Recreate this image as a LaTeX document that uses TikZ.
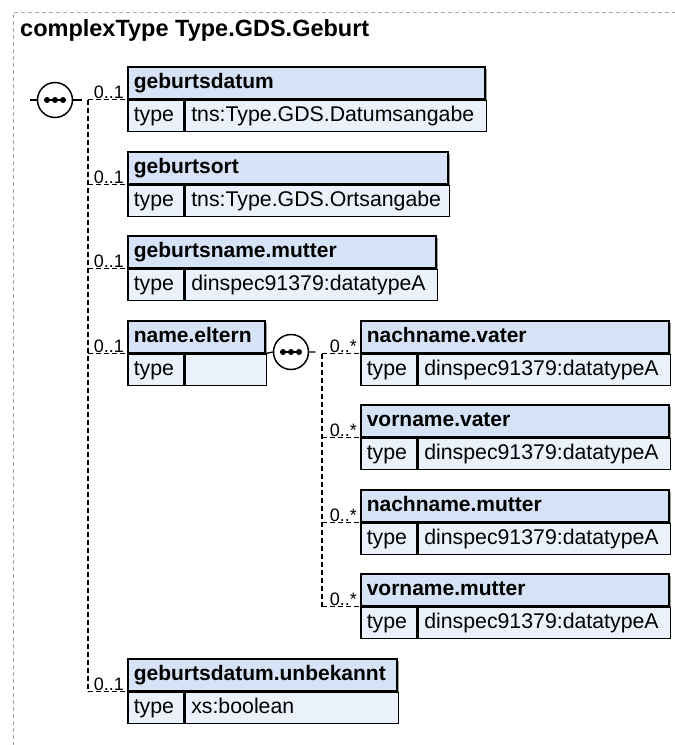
\documentclass[tikz,border=0pt]{standalone}
\usepackage{fontspec}
\setmainfont{Liberation Sans}
\usepackage{tikz}

\definecolor{headblue}{RGB}{214,227,247}
\definecolor{rowblue}{RGB}{234,241,251}
\definecolor{framegray}{RGB}{165,165,165}

\tikzset{
  elhead/.style={draw, line width=1.5pt, fill=headblue, anchor=north west, align=left,
    inner xsep=6pt, inner ysep=0pt, minimum height=32pt, text height=15pt, text depth=4pt,
    font=\bfseries\fontsize{21}{24}\selectfont},
  elrow/.style={elhead, fill=rowblue, minimum height=31pt, font=\fontsize{21.3}{24}\selectfont},
  tree/.style={line width=1.3pt, dash pattern=on 5pt off 3pt},
  mult/.style={anchor=south east, inner sep=0pt, font=\fontsize{18}{20}\selectfont},
  seqcirc/.style={circle, draw, line width=1.5pt, fill=white, minimum size=35pt, inner sep=0pt},
}

\newcommand{\xselem}[6]{%
  \pgfmathsetmacro\headw{#4-12}
  \pgfmathsetmacro\typew{#4-68}
  \fill[black!40] (#2+2.5,#3+2.5) rectangle (#2+#4+2.5,#3+65.5);
  \path (#2,#3) node[elhead, text width=\headw pt] (#1) {#5}
    (#1.south west) node[elrow, text width=44pt] (#1-k) {type}
    (#1-k.north east) node[elrow, text width=\typew pt] (#1-t) {#6};
}
\newcommand{\seqicon}[3]{%
  \node[seqcirc] (#1) at (#2,#3) {};
  \draw[line width=1.5pt] ([xshift=-8pt]#1.center) -- ([xshift=8pt]#1.center);
  \foreach \d in {-8,0,8} \fill ([xshift=\d pt]#1.center) circle (3pt);
}

\begin{document}
\begin{tikzpicture}[x=1pt, y=-1pt]
\useasboundingbox (0,0) rectangle (675,745);
\draw[framegray, line width=1pt, dash pattern=on 4pt off 3pt] (13,760) |- (690,12);
\node[anchor=base west, inner sep=0pt, font=\bfseries\fontsize{23.5}{28}\selectfont] (title) at (20,36) {complexType Type.GDS.Geburt};

\xselem{gdatum}{127}{66}{357}{geburtsdatum}{tns:Type.GDS.Datumsangabe}
\xselem{gort}{127}{151}{320}{geburtsort}{tns:Type.GDS.Ortsangabe}
\xselem{gmutter}{127}{235}{308}{geburtsname.mutter}{dinspec91379:datatypeA}
\xselem{eltern}{127}{320}{137}{name.eltern}{}
\xselem{gunbek}{127}{658}{269}{geburtsdatum.unbekannt}{xs:boolean}

\xselem{nvater}{360}{320}{308}{nachname.vater}{dinspec91379:datatypeA}
\xselem{vvater}{360}{404}{308}{vorname.vater}{dinspec91379:datatypeA}
\xselem{nmutter}{360}{489}{308}{nachname.mutter}{dinspec91379:datatypeA}
\xselem{vmutter}{360}{573}{308}{vorname.mutter}{dinspec91379:datatypeA}

\seqicon{seqa}{55}{100}
\seqicon{seqb}{291}{352}
\draw[line width=1.3pt] (seqa.west) -- ++(-7,0) (seqa.east) -- ++(9,0);
\draw[line width=1.3pt] (eltern.south east) -- (seqb.west) (seqb.east) -- ++(6,0);

\coordinate (trunk) at (88,0);
\draw[tree] (gdatum.south west -| trunk) -- (gunbek.south west -| trunk);
\foreach \e in {gdatum,gort,gmutter,eltern,gunbek} {
  \draw[tree] (\e.south west -| trunk) -- (\e.south west);
  \node[mult] (\e-m) at ([xshift=-3pt,yshift=0.5pt]\e.south west) {0..1};
}

\coordinate (branch) at (322,0);
\draw[tree] (nvater.south west -| branch) -- (vmutter.south west -| branch);
\foreach \e in {nvater,vvater,nmutter,vmutter} {
  \draw[tree] (\e.south west -| branch) -- (\e.south west);
  \node[mult] (\e-m) at ([xshift=-3pt,yshift=0.5pt]\e.south west) {0..*};
}
\end{tikzpicture}
\end{document}
